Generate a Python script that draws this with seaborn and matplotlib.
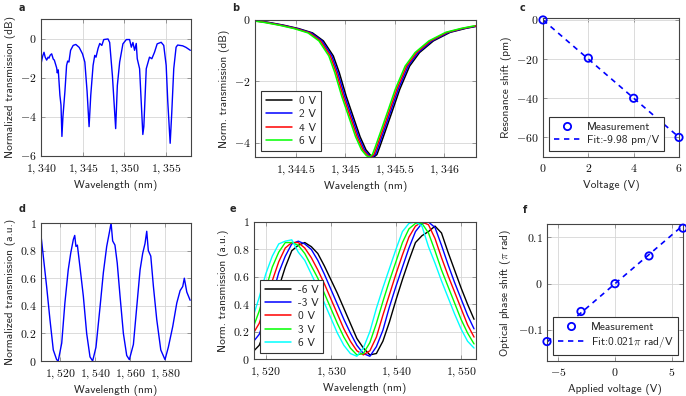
import matplotlib
matplotlib.use("Agg")
import matplotlib.pyplot as plt
import seaborn as sns
import pandas as pd
from matplotlib.ticker import FixedLocator, FuncFormatter
from matplotlib.lines import Line2D

# ---------------- data ----------------
# (a) transmission spectrum, dB
a_wl = [1340.0, 1340.2, 1340.36, 1340.5, 1340.68, 1340.85, 1340.96, 1341.1, 1341.28, 1341.47,
        1341.6, 1341.88, 1341.95, 1342.07, 1342.27, 1342.4, 1342.51, 1342.63, 1342.87, 1343.07,
        1343.2, 1343.35, 1343.55, 1343.86, 1344.18, 1344.58, 1344.98, 1345.26, 1345.53, 1345.77,
        1345.97, 1346.25, 1346.45, 1346.6, 1346.85, 1347.05, 1347.3, 1347.53, 1348.04, 1348.24,
        1348.57, 1348.96, 1349.16, 1349.44, 1349.83, 1350.24, 1350.63, 1350.84, 1351.03, 1351.23,
        1351.43, 1351.55, 1351.83, 1352.22, 1352.34, 1352.63, 1353.02, 1353.3, 1353.62, 1353.94,
        1354.42, 1354.73, 1355.02, 1355.21, 1355.5, 1355.69, 1355.93, 1356.21, 1356.4, 1357.0,
        1357.4, 1357.92]
a_db = [-1.3, -0.9, -0.7, -0.95, -1.1, -0.95, -1.0, -0.85, -0.78, -1.05,
        -1.1, -1.5, -1.75, -1.6, -2.9, -3.4, -5.0, -4.0, -2.7, -1.37,
        -1.15, -1.2, -0.6, -0.35, -0.3, -0.45, -0.78, -1.2, -2.7, -4.5,
        -2.9, -1.37, -0.86, -0.95, -0.5, -0.25, -0.35, -0.05, -0.02, -0.2,
        -1.9, -4.6, -2.4, -1.2, -0.27, -0.05, -0.05, -0.44, -0.2, -0.6,
        -0.25, -1.03, -1.54, -4.9, -4.5, -1.54, -0.95, -1.03, -0.7, -0.27,
        -0.19, -0.35, -1.37, -3.2, -5.35, -3.8, -1.54, -0.44, -0.33, -0.37,
        -0.45, -0.6]

# (b) resonance dip for several voltages (4 V curve read, others shifted by read offsets)
b_wl_4V = [1344.09, 1344.2, 1344.35, 1344.5, 1344.64, 1344.75, 1344.85, 1344.91, 1344.98, 1345.05,
           1345.12, 1345.18, 1345.23, 1345.26, 1345.29, 1345.32, 1345.38, 1345.45, 1345.52, 1345.62,
           1345.72, 1345.86, 1346.03, 1346.19, 1346.32]
b_db = [-0.03, -0.08, -0.17, -0.28, -0.42, -0.68, -1.17, -1.71, -2.48, -3.14,
        -3.8, -4.23, -4.42, -4.46, -4.38, -4.12, -3.57, -2.92, -2.26, -1.5,
        -1.06, -0.68, -0.4, -0.27, -0.19]
b_labels = ["0 V", "2 V", "4 V", "6 V"]
b_offset_nm = [0.03, 0.015, 0.0, -0.015]
b_colors = ["#000000", "#0000ff", "#ff0000", "#00ff00"]

# (c) resonance shift vs voltage
c_v = [0, 2, 4, 6]
c_shift = [0, -19.5, -40, -60]
c_fit_v = [0, 6]
c_fit = [0, -59.9]

# (d) MZI spectrum
d_wl = [1509.2, 1510.5, 1512.4, 1514.3, 1516.2, 1518.1, 1519.0, 1521.0, 1522.8, 1524.7,
        1526.1, 1527.6, 1528.4, 1529.1, 1529.9, 1531.4, 1533.3, 1535.2, 1537.1, 1538.6,
        1540.5, 1542.8, 1544.7, 1546.6, 1548.1, 1549.1, 1550.0, 1551.3, 1552.6, 1554.2,
        1556.1, 1558.0, 1559.5, 1561.8, 1563.7, 1565.6, 1567.1, 1568.4, 1569.4, 1570.3,
        1571.7, 1573.2, 1575.1, 1577.4, 1579.8, 1581.7, 1584.2, 1586.5, 1588.4, 1589.9,
        1590.8, 1592.2, 1594.1]
d_tr = [0.91, 0.76, 0.54, 0.30, 0.08, 0.01, 0.0, 0.13, 0.42, 0.66,
        0.78, 0.88, 0.91, 0.83, 0.84, 0.68, 0.47, 0.20, 0.03, 0.0,
        0.10, 0.39, 0.64, 0.83, 0.93, 1.0, 0.87, 0.84, 0.71, 0.47,
        0.20, 0.04, 0.01, 0.12, 0.39, 0.66, 0.78, 0.85, 0.94, 0.80,
        0.76, 0.54, 0.30, 0.08, 0.01, 0.10, 0.25, 0.42, 0.51, 0.54,
        0.60, 0.50, 0.44]

# (e) MZI spectra for several voltages
e_wl = [1518, 1519, 1520, 1521, 1522, 1523, 1524, 1525, 1526, 1527, 1528, 1529, 1530, 1531,
        1532, 1533, 1534, 1535, 1536, 1537, 1538, 1539, 1540, 1541, 1542, 1543, 1544, 1545,
        1546, 1547, 1548, 1549, 1550, 1551, 1552]
e_m6 = [0.05, 0.10, 0.22, 0.36, 0.52, 0.67, 0.79, 0.83, 0.85, 0.82, 0.77, 0.68, 0.58, 0.48,
        0.37, 0.26, 0.15, 0.08, 0.03, 0.04, 0.13, 0.27, 0.43, 0.58, 0.72, 0.85, 0.90, 0.93,
        0.97, 0.92, 0.78, 0.65, 0.52, 0.40, 0.29]
e_m3 = [0.12, 0.18, 0.31, 0.46, 0.63, 0.75, 0.84, 0.86, 0.84, 0.80, 0.72, 0.62, 0.51, 0.40,
        0.29, 0.19, 0.10, 0.04, 0.02, 0.09, 0.21, 0.38, 0.53, 0.67, 0.81, 0.93, 0.99, 1.00,
        0.96, 0.83, 0.69, 0.56, 0.44, 0.32, 0.22]
e_0 = [0.18, 0.26, 0.40, 0.57, 0.71, 0.81, 0.85, 0.85, 0.81, 0.74, 0.65, 0.55, 0.44, 0.33,
       0.22, 0.13, 0.06, 0.03, 0.06, 0.16, 0.32, 0.47, 0.62, 0.76, 0.89, 0.97, 1.00, 0.98,
       0.88, 0.74, 0.61, 0.49, 0.37, 0.25, 0.16]
e_p3 = [0.22, 0.35, 0.51, 0.67, 0.78, 0.85, 0.85, 0.83, 0.77, 0.68, 0.59, 0.48, 0.37, 0.26,
        0.16, 0.08, 0.03, 0.04, 0.12, 0.26, 0.42, 0.57, 0.71, 0.85, 0.95, 0.99, 0.99, 0.92,
        0.79, 0.65, 0.53, 0.41, 0.29, 0.19, 0.11]
e_p6 = [0.30, 0.45, 0.62, 0.75, 0.84, 0.86, 0.87, 0.78, 0.72, 0.62, 0.52, 0.41, 0.30, 0.19,
        0.10, 0.04, 0.02, 0.08, 0.20, 0.37, 0.52, 0.66, 0.80, 0.93, 0.99, 1.00, 0.97, 0.82,
        0.70, 0.57, 0.45, 0.33, 0.22, 0.13, 0.08]
e_labels = ["-6 V", "-3 V", "0 V", "3 V", "6 V"]
e_colors = ["#000000", "#0000ff", "#ff0000", "#00ff00", "#00ffff"]

# (f) phase shift vs voltage
f_v = [-6, -3, 0, 3, 6]
f_phase = [-0.125, -0.06, 0.0, 0.06, 0.12]
f_fit_v = [-6, 6]
f_fit = [-0.126, 0.126]

# ---------------- style ----------------
sns.set_theme(style="whitegrid")
plt.rcParams.update({
    "font.family": ["cmss10", "DejaVu Sans"],
    "mathtext.fontset": "cm",
    "axes.unicode_minus": True,
    "axes.facecolor": "white",
    "axes.edgecolor": "#444444",
    "axes.linewidth": 0.8,
    "grid.color": "#d6d6d6",
    "grid.linewidth": 0.6,
    "axes.formatter.use_mathtext": True,
})

LBL = 8.2
TCK = 8.5
BLUE = "#0000ff"


def tick_fmt(v, pos):
    v = round(v, 6)
    if abs(v) >= 1000:
        s = f"{v:,.1f}" if abs(v - round(v)) > 1e-6 else f"{int(round(v)):,}"
    else:
        s = "%g" % v
        if s == "-0":
            s = "0"
    return f"${s}$"


def style(ax, xt, yt, xlim, ylim, xlabel, ylabel):
    ax.set_xlim(*xlim)
    ax.set_ylim(*ylim)
    ax.xaxis.set_major_locator(FixedLocator(xt))
    ax.yaxis.set_major_locator(FixedLocator(yt))
    ax.xaxis.set_major_formatter(FuncFormatter(tick_fmt))
    ax.yaxis.set_major_formatter(FuncFormatter(tick_fmt))
    ax.tick_params(direction="in", length=3, width=0.6, color="#888888",
                   top=True, right=True, bottom=True, left=True,
                   labelsize=TCK, labelcolor="#111111")
    ax.tick_params(axis="x", pad=4.5)
    ax.tick_params(axis="y", pad=3)
    ax.grid(True)
    ax.set_axisbelow(True)
    ax.set_xlabel(xlabel, fontsize=LBL, labelpad=3.5)
    ax.set_ylabel(ylabel, fontsize=LBL, labelpad=3)
    for s in ax.spines.values():
        s.set_color("#444444")
        s.set_linewidth(0.8)


def legend(ax, handles, labels, **kw):
    lg = ax.legend(handles, labels, loc="lower left", fontsize=LBL, frameon=True,
                   fancybox=False, framealpha=1, edgecolor="#333333",
                   borderaxespad=0.55, handlelength=2.3, labelspacing=0.3,
                   borderpad=0.4, handletextpad=0.6, **kw)
    lg.get_frame().set_linewidth(0.8)
    return lg


W, H = 686, 396
fig = plt.figure(figsize=(W / 100, H / 100), dpi=100)


def box(l, t, r, b):
    return [l / W, 1 - b / H, (r - l) / W, (b - t) / H]


# (a)
ax = fig.add_axes(box(41, 19, 191, 156))
sns.lineplot(x=a_wl, y=a_db, ax=ax, color=BLUE, lw=1.0, estimator=None, sort=False)
style(ax, [1340, 1345, 1350, 1355], [0, -2, -4, -6], (1340, 1358), (-6, 1),
      "Wavelength (nm)", "Normalized transmission (dB)")

# (b)
rows = []
for lab, off in zip(b_labels, b_offset_nm):
    for w, d in zip(b_wl_4V, b_db):
        rows.append({"wl": w + off, "db": d, "V": lab})
df_b = pd.DataFrame(rows)
ax = fig.add_axes(box(255, 20, 476, 157))
sns.lineplot(data=df_b, x="wl", y="db", hue="V", hue_order=b_labels,
             palette=b_colors, ax=ax, lw=1.1, estimator=None, legend=False)
style(ax, [1344.5, 1345, 1345.5, 1346], [0, -2, -4], (1344.09, 1346.32), (-4.46, 0),
      "Wavelength (nm)", "Norm. transmission (dB)")
legend(ax, [Line2D([], [], color=c, lw=1.1) for c in b_colors], b_labels)

# (c)
ax = fig.add_axes(box(543, 18, 679, 157))
sns.lineplot(x=c_fit_v, y=c_fit, ax=ax, color=BLUE, lw=1.2, estimator=None)
ax.lines[-1].set_linestyle((0, (3.2, 2.8)))
sns.scatterplot(x=c_v, y=c_shift, ax=ax, s=28, facecolor="none", edgecolor=BLUE,
                linewidth=1.3, zorder=5, clip_on=False)
style(ax, [0, 2, 4, 6], [0, -20, -40, -60], (0, 6), (-70, 1),
      "Voltage (V)", "Resonance shift (pm)")
legend(ax, [Line2D([], [], ls="none", marker="o", mfc="none", mec=BLUE, mew=1.3, ms=5.2),
            Line2D([], [], color=BLUE, lw=1.2, ls=(0, (3.2, 2.8)))],
       ["Measurement", "Fit:-9.98 pm/V"])

# (d)
ax = fig.add_axes(box(41, 223, 191, 361))
sns.lineplot(x=d_wl, y=d_tr, ax=ax, color=BLUE, lw=1.0, estimator=None, sort=False)
style(ax, [1520, 1540, 1560, 1580], [0, 0.2, 0.4, 0.6, 0.8, 1.0], (1509.2, 1594.6), (0, 1),
      "Wavelength (nm)", "Normalized transmission (a.u.)")

# (e)
ax = fig.add_axes(box(254, 222, 476, 359))
for ys, c in zip([e_m6, e_m3, e_0, e_p3, e_p6], e_colors):
    sns.lineplot(x=e_wl, y=ys, ax=ax, color=c, lw=1.0, estimator=None)
style(ax, [1520, 1530, 1540, 1550], [0, 0.2, 0.4, 0.6, 0.8, 1.0], (1518.2, 1552.3), (0, 1),
      "Wavelength (nm)", "Norm. transmission (a.u.)")
legend(ax, [Line2D([], [], color=c, lw=1.1) for c in e_colors], e_labels)

# (f)
ax = fig.add_axes(box(547, 224, 683, 361))
sns.lineplot(x=f_fit_v, y=f_fit, ax=ax, color=BLUE, lw=1.2, estimator=None)
ax.lines[-1].set_linestyle((0, (3.2, 2.8)))
sns.scatterplot(x=f_v, y=f_phase, ax=ax, s=28, facecolor="none", edgecolor=BLUE,
                linewidth=1.3, zorder=5, clip_on=False)
style(ax, [-5, 0, 5], [-0.1, 0, 0.1], (-6, 6), (-0.167, 0.129),
      "Applied voltage (V)", r"Optical phase shift ($\pi$ rad)")
legend(ax, [Line2D([], [], ls="none", marker="o", mfc="none", mec=BLUE, mew=1.3, ms=5.2),
            Line2D([], [], color=BLUE, lw=1.2, ls=(0, (3.2, 2.8)))],
       ["Measurement", r"Fit:0.021$\pi$ rad/V"])

# panel letters
for lab, x, y in [("a", 22, 8), ("b", 236, 8), ("c", 523, 8),
                  ("d", 22, 209), ("e", 233, 209), ("f", 525, 210)]:
    fig.text(x / W, 1 - y / H, lab, fontsize=7, fontweight="bold",
             family="DejaVu Sans", ha="center", va="center")

fig.savefig("out.png", dpi=100)
